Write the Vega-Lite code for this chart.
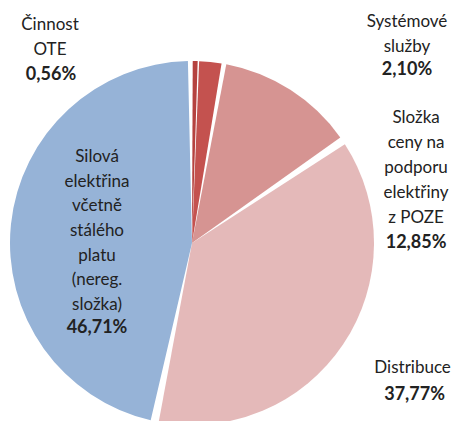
{
  "$schema": "https://vega.github.io/schema/vega-lite/v6.json",
  "width": 384,
  "height": 354,
  "autosize": {"type": "none"},
  "padding": {"left": 0, "top": 66, "right": 72, "bottom": 1},
  "background": "white",
  "view": {"stroke": null},
  "data": {
    "values": [
      {"i": 1, "nazev": "Činnost OTE", "label": "Činnost\nOTE", "podil": "0,56%", "value": 0.56},
      {"i": 2, "nazev": "Systémové služby", "label": "Systémové\nslužby", "podil": "2,10%", "value": 2.10},
      {"i": 3, "nazev": "Složka ceny na podporu elektřiny z POZE", "label": "Složka\nceny na\npodporu\nelektřiny\nz POZE", "podil": "12,85%", "value": 12.85},
      {"i": 4, "nazev": "Distribuce", "label": "Distribuce", "podil": "37,77%", "value": 37.77},
      {"i": 5, "nazev": "Silová elektřina včetně stálého platu (nereg. složka)", "label": "Silová\nelektřina\nvčetně\nstálého\nplatu\n(nereg.\nsložka)", "podil": "46,71%", "value": 46.71}
    ]
  },
  "transform": [
    {"stack": "value", "groupby": [], "sort": [{"field": "i", "order": "ascending"}], "as": ["v0", "v1"]}
  ],
  "encoding": {
    "order": {"field": "i", "type": "quantitative"}
  },
  "layer": [
    {
      "transform": [{"filter": "datum.i > 2"}],
      "mark": {"type": "arc", "radius": 182, "padAngle": 0.045},
      "encoding": {
        "theta": {"field": "v0", "type": "quantitative", "stack": null, "scale": {"domain": [0, 99.99]}},
        "theta2": {"field": "v1"},
        "color": {"field": "nazev", "type": "nominal", "legend": null,
          "scale": {"domain": ["Činnost OTE", "Systémové služby", "Složka ceny na podporu elektřiny z POZE", "Distribuce", "Silová elektřina včetně stálého platu (nereg. složka)"],
                    "range": ["#b5423f", "#c4524f", "#d69492", "#e4b9b9", "#96b3d7"]}}
      }
    },
    {
      "transform": [{"filter": "datum.i <= 2"}],
      "mark": {"type": "arc", "radius": 182, "padAngle": 0.008},
      "encoding": {
        "theta": {"field": "v0", "type": "quantitative", "stack": null, "scale": {"domain": [0, 99.99]}},
        "theta2": {"field": "v1"},
        "color": {"field": "nazev", "type": "nominal", "legend": null}
      }
    },
    {
      "mark": {"type": "text", "radius": 205, "dx": -145.6, "dy": -13, "align": "center", "baseline": "middle", "lineBreak": "\n", "lineHeight": 25, "font": "Lato", "fontSize": 17, "color": "#222222"},
      "encoding": {
        "theta": {"field": "value", "type": "quantitative", "stack": true},
        "text": {"condition": {"test": "datum.i === 1", "field": "label"}, "value": ""}
      }
    },
    {
      "mark": {"type": "text", "radius": 205, "dx": -144.6, "dy": 37, "align": "center", "baseline": "middle", "font": "Lato", "fontSize": 18, "fontWeight": "bold", "color": "#222222"},
      "encoding": {
        "theta": {"field": "value", "type": "quantitative", "stack": true},
        "text": {"condition": {"test": "datum.i === 1", "field": "podil"}, "value": ""}
      }
    },
    {
      "mark": {"type": "text", "radius": 208, "dx": 194, "dy": -14, "align": "center", "baseline": "middle", "lineBreak": "\n", "lineHeight": 25, "font": "Lato", "fontSize": 17, "color": "#222222"},
      "encoding": {
        "theta": {"field": "value", "type": "quantitative", "stack": true},
        "text": {"condition": {"test": "datum.i === 2", "field": "label"}, "value": ""}
      }
    },
    {
      "mark": {"type": "text", "radius": 208, "dx": 194, "dy": 34, "align": "center", "baseline": "middle", "font": "Lato", "fontSize": 18, "fontWeight": "bold", "color": "#222222"},
      "encoding": {
        "theta": {"field": "value", "type": "quantitative", "stack": true},
        "text": {"condition": {"test": "datum.i === 2", "field": "podil"}, "value": ""}
      }
    },
    {
      "mark": {"type": "text", "radius": 200, "dx": 116, "dy": 43.3, "align": "center", "baseline": "middle", "lineBreak": "\n", "lineHeight": 25, "font": "Lato", "fontSize": 17, "color": "#222222"},
      "encoding": {
        "theta": {"field": "value", "type": "quantitative", "stack": true},
        "text": {"condition": {"test": "datum.i === 3", "field": "label"}, "value": ""}
      }
    },
    {
      "mark": {"type": "text", "radius": 200, "dx": 116, "dy": 168, "align": "center", "baseline": "middle", "font": "Lato", "fontSize": 18, "fontWeight": "bold", "color": "#222222"},
      "encoding": {
        "theta": {"field": "value", "type": "quantitative", "stack": true},
        "text": {"condition": {"test": "datum.i === 3", "field": "podil"}, "value": ""}
      }
    },
    {
      "mark": {"type": "text", "radius": 215, "dx": 42, "dy": 5, "align": "center", "baseline": "middle", "lineBreak": "\n", "lineHeight": 25, "font": "Lato", "fontSize": 17, "color": "#222222"},
      "encoding": {
        "theta": {"field": "value", "type": "quantitative", "stack": true},
        "text": {"condition": {"test": "datum.i === 4", "field": "label"}, "value": ""}
      }
    },
    {
      "mark": {"type": "text", "radius": 215, "dx": 44, "dy": 32, "align": "center", "baseline": "middle", "font": "Lato", "fontSize": 18, "fontWeight": "bold", "color": "#222222"},
      "encoding": {
        "theta": {"field": "value", "type": "quantitative", "stack": true},
        "text": {"condition": {"test": "datum.i === 4", "field": "podil"}, "value": ""}
      }
    },
    {
      "mark": {"type": "text", "radius": 95.5, "dx": 0, "dy": -76, "align": "center", "baseline": "middle", "lineBreak": "\n", "lineHeight": 24.6, "font": "Lato", "fontSize": 17, "color": "#222222"},
      "encoding": {
        "theta": {"field": "value", "type": "quantitative", "stack": true},
        "text": {"condition": {"test": "datum.i === 5", "field": "label"}, "value": ""}
      }
    },
    {
      "mark": {"type": "text", "radius": 95.5, "dx": 0, "dy": 95, "align": "center", "baseline": "middle", "font": "Lato", "fontSize": 18, "fontWeight": "bold", "color": "#222222"},
      "encoding": {
        "theta": {"field": "value", "type": "quantitative", "stack": true},
        "text": {"condition": {"test": "datum.i === 5", "field": "podil"}, "value": ""}
      }
    }
  ]
}
